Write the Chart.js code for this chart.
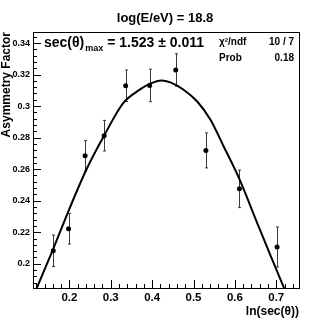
<!DOCTYPE html>
<html lang="en">
<head>
  <meta charset="UTF-8">
  <title>Asymmetry Factor vs ln(sec(theta))</title>
  <script src="https://cdn.jsdelivr.net/npm/chart.js"></script>
  <style>
    body {
      margin: 0;
      padding: 0;
      background-color: #ffffff;
    }
    canvas {
      display: block;
    }
  </style>
</head>
<body>
  <canvas id="asymChart" width="332" height="321"></canvas>
  <script>
    // Measured points (ln(sec(theta)), asymmetry factor, error)
    const lnSec = [0.161, 0.198, 0.238, 0.284, 0.336, 0.394, 0.457, 0.530, 0.611, 0.702];
    const asym = [0.2082, 0.2222, 0.2685, 0.2812, 0.3129, 0.3131, 0.3229, 0.2719, 0.2475, 0.2106];
    const asymErr = [0.0100, 0.0097, 0.0097, 0.0097, 0.0100, 0.0103, 0.0103, 0.0111, 0.0119, 0.0127];

    // Fit curve
    const fitX = [0.121, 0.160, 0.199, 0.2408, 0.285, 0.330, 0.370, 0.395, 0.423, 0.444, 0.476, 0.509, 0.541, 0.573, 0.610, 0.654, 0.687, 0.719];
    const fitY = [0.1845, 0.2088, 0.2342, 0.2596, 0.2818, 0.3019, 0.3104, 0.3142, 0.3163, 0.3150, 0.3104, 0.3029, 0.2913, 0.2744, 0.2543, 0.2258, 0.2046, 0.1845];

    // Axis tick labels
    const xTicks = [0.2, 0.3, 0.4, 0.5, 0.6, 0.7];
    const yTicks = [0.2, 0.22, 0.24, 0.26, 0.28, 0.3, 0.32, 0.34];

    const titleText = 'log(E/eV) = 18.8';
    const xTitle = 'ln(sec(\u03b8))';
    const yTitle = 'Asymmetry Factor';

    const FONT = '"Liberation Sans", Arial, Helvetica, sans-serif';

    // ROOT style frame, ticks and text
    const rootFrame = {
      id: 'rootFrame',
      beforeDatasetsDraw(chart) {
        const c = chart.ctx;
        const xs = chart.scales.x, ys = chart.scales.y;
        c.save();
        c.strokeStyle = '#3a3a3a';
        c.lineWidth = 1;
        for (let i = 0; i < lnSec.length; i++) {
          const px = Math.round(xs.getPixelForValue(lnSec[i])) + 0.5;
          const top = ys.getPixelForValue(asym[i] + asymErr[i]);
          const bot = ys.getPixelForValue(asym[i] - asymErr[i]);
          c.beginPath();
          c.moveTo(px, top); c.lineTo(px, bot);
          c.moveTo(px - 1.5, top); c.lineTo(px + 1.5, top);
          c.moveTo(px - 1.5, bot); c.lineTo(px + 1.5, bot);
          c.stroke();
        }
        c.restore();
      },
      afterDraw(chart) {
        const c = chart.ctx;
        const a = chart.chartArea;
        const xs = chart.scales.x, ys = chart.scales.y;
        c.save();
        c.strokeStyle = '#000';
        c.lineWidth = 1;
        c.strokeRect(Math.round(a.left) + 0.5, Math.round(a.top) + 0.5,
          Math.round(a.right - a.left), Math.round(a.bottom - a.top));

        // ticks
        c.beginPath();
        for (let v = 0.12; v < 0.755; v += 0.02) {
          const px = Math.round(xs.getPixelForValue(v)) + 0.5;
          const major = Math.abs(v * 10 - Math.round(v * 10)) < 1e-6;
          c.moveTo(px, a.bottom); c.lineTo(px, a.bottom - (major ? 8 : 4));
        }
        for (let v = 0.188; v < 0.347; v += 0.004) {
          const py = Math.round(ys.getPixelForValue(v)) + 0.5;
          const major = Math.abs(v * 50 - Math.round(v * 50)) < 1e-6;
          c.moveTo(a.left, py); c.lineTo(a.left + (major ? 8 : 4), py);
        }
        c.stroke();

        c.fillStyle = '#000';
        // tick labels
        c.font = 'bold 11.5px ' + FONT;
        c.textAlign = 'center';
        c.textBaseline = 'alphabetic';
        xTicks.forEach(v => c.fillText(String(v), xs.getPixelForValue(v), a.bottom + 13));
        c.font = 'bold 9px ' + FONT;
        c.textAlign = 'right';
        c.textBaseline = 'middle';
        yTicks.forEach(v => c.fillText(String(v), a.left - 3, ys.getPixelForValue(v)));

        // title
        c.textBaseline = 'alphabetic';
        c.textAlign = 'center';
        c.font = 'bold 13px ' + FONT;
        c.fillText(titleText, 165, 22);

        // axis titles
        c.textAlign = 'right';
        c.font = 'bold 12px ' + FONT;
        c.fillText(xTitle, a.right, 315);
        c.save();
        c.translate(10, a.top);
        c.rotate(-Math.PI / 2);
        c.font = 'bold 12px ' + FONT;
        c.textAlign = 'right';
        c.fillText(yTitle, 0, 0);
        c.restore();

        // fit result
        c.textAlign = 'left';
        c.font = 'bold 14px ' + FONT;
        let x = 44;
        c.fillText('sec(\u03b8)', x, 47);
        x += c.measureText('sec(\u03b8)').width + 1;
        c.font = 'bold 9px ' + FONT;
        c.fillText('max', x, 51);
        x += c.measureText('max').width;
        c.font = 'bold 14px ' + FONT;
        c.fillText(' = 1.523 \u00b1 0.011', x, 47);

        // stats box
        c.font = 'bold 10px ' + FONT;
        c.fillText('\u03c7\u00b2/ndf', 219, 45);
        c.fillText('Prob', 219, 61);
        c.textAlign = 'right';
        c.fillText('10 / 7', 294, 45);
        c.fillText('0.18', 294, 61);
        c.restore();
      }
    };

    const ctx = document.getElementById('asymChart').getContext('2d');
    const chart = new Chart(ctx, {
      type: 'scatter',
      data: {
        datasets: [
          {
            label: 'fit',
            type: 'line',
            data: fitX.map((x, i) => ({ x: x, y: fitY[i] })),
            borderColor: '#000',
            borderWidth: 2,
            pointRadius: 0,
            cubicInterpolationMode: 'monotone',
            fill: false,
            order: 2,
          },
          {
            label: 'data',
            data: lnSec.map((x, i) => ({ x: x, y: asym[i] })),
            backgroundColor: '#000',
            borderColor: '#000',
            pointRadius: 2.5,
            pointBorderWidth: 0,
            order: 1,
          },
        ],
      },
      options: {
        responsive: false,
        animation: false,
        devicePixelRatio: 1,
        layout: { padding: { left: 33, right: 33, top: 32, bottom: 33 } },
        scales: {
          x: { type: 'linear', min: 0.112, max: 0.755, display: false },
          y: { type: 'linear', min: 0.1846, max: 0.347, display: false },
        },
        plugins: {
          legend: { display: false },
          tooltip: { enabled: false },
        },
      },
      plugins: [rootFrame],
    });
  </script>
</body>
</html>
